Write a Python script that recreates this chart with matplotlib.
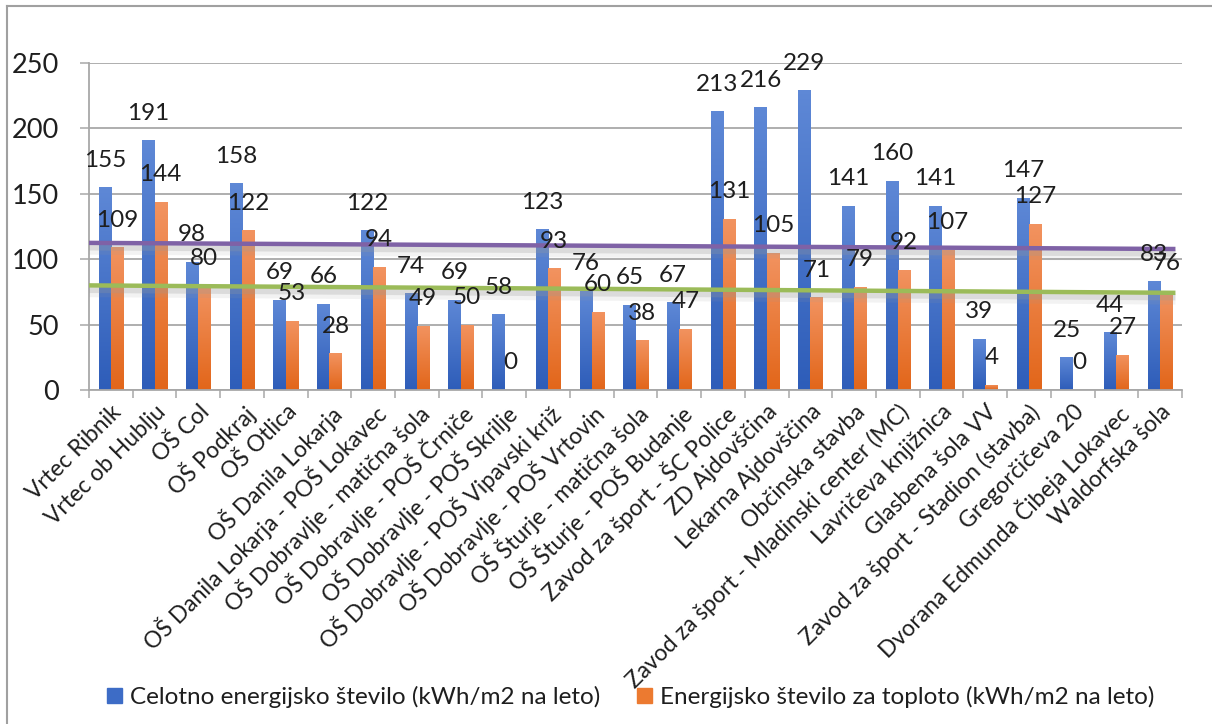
import numpy as np
import matplotlib
matplotlib.use("Agg")
import matplotlib.pyplot as plt
from matplotlib.colors import LinearSegmentedColormap
from matplotlib.patches import Rectangle
from matplotlib.lines import Line2D
import matplotlib.patheffects as pe

plt.rcParams['font.family'] = ['Lato', 'DejaVu Sans']

categories = [
    "Vrtec Ribnik", "Vrtec ob Hublju", "OŠ Col", "OŠ Podkraj", "OŠ Otlica",
    "OŠ Danila Lokarja", "OŠ Danila Lokarja - POŠ Lokavec",
    "OŠ Dobravlje - matična šola", "OŠ Dobravlje - POŠ Črniče",
    "OŠ Dobravlje - POŠ Skrilje", "OŠ Dobravlje - POŠ Vipavski križ",
    "OŠ Dobravlje - POŠ Vrtovin", "OŠ Šturje - matična šola",
    "OŠ Šturje - POŠ Budanje", "Zavod za šport - ŠC Police", "ZD Ajdovščina",
    "Lekarna Ajdovščina", "Občinska stavba",
    "Zavod za šport - Mladinski center (MC)", "Lavričeva knjižnica",
    "Glasbena šola VV", "Zavod za šport - Stadion (stavba)", "Gregorčičeva 20",
    "Dvorana Edmunda Čibeja Lokavec", "Waldorfska šola",
]
total = [155, 191, 98, 158, 69, 66, 122, 74, 69, 58, 123, 76, 65, 67, 213,
         216, 229, 141, 160, 141, 39, 147, 25, 44, 83]
heat = [109, 144, 80, 122, 53, 28, 94, 49, 50, 0, 93, 60, 38, 47, 131,
        105, 71, 79, 92, 107, 4, 127, 0, 27, 76]
trend_total = [112.5, 107.8]
trend_heat = [80.0, 74.3]
series_names = ["Celotno energijsko število (kWh/m2 na leto)",
                "Energijsko število za toploto (kWh/m2 na leto)"]
yticks = [0, 50, 100, 150, 200, 250]

W, H = 1212, 724
fig = plt.figure(figsize=(W / 100, H / 100), dpi=100)
ax = fig.add_axes([89 / W, 1 - 390 / H, (1182 - 89) / W, (390 - 63) / H])

blue_cmap = LinearSegmentedColormap.from_list("b", ["#2E5DB9", "#5E88D6"])
orange_cmap = LinearSegmentedColormap.from_list("o", ["#E2661A", "#F29360"])
grad = np.linspace(0, 1, 64).reshape(-1, 1)

bw = 0.28
x = np.arange(len(categories))
text_color = "#1e1e1e"


def gradient_bars(xs, vals, cmap):
    bars = ax.bar(xs, vals, width=bw, color="none", edgecolor="none", zorder=2)
    for b in bars:
        x0, y0 = b.get_x(), b.get_y()
        w, h = b.get_width(), b.get_height()
        if h <= 0:
            continue
        im = ax.imshow(grad, cmap=cmap, origin="lower", aspect="auto",
                       extent=(x0, x0 + w, y0, y0 + h), zorder=2,
                       interpolation="bilinear")
        im.set_clip_path(b)
    return bars


gradient_bars(x - bw / 2, total, blue_cmap)
gradient_bars(x + bw / 2, heat, orange_cmap)

for xi, v in zip(x - bw / 2, total):
    ax.annotate(str(v), (xi, v), xytext=(0, 19.5), textcoords="offset points",
                ha="center", va="center", fontsize=17.5, color=text_color,
                zorder=5, annotation_clip=False)
for xi, v in zip(x + bw / 2, heat):
    ax.annotate(str(v), (xi, v), xytext=(0, 19.5), textcoords="offset points",
                ha="center", va="center", fontsize=17.5, color=text_color,
                zorder=5, annotation_clip=False)

# trend lines with soft shadow
tx = [-0.62, 24.35]
for vals, col in [(trend_total, "#7F62A6"), (trend_heat, "#9BBB59")]:
    ax.plot(tx, vals, color=col, lw=3.2, solid_capstyle="butt", zorder=4,
            path_effects=[pe.SimpleLineShadow(offset=(0, -3), shadow_color="#9a9a9a",
                                              alpha=0.25, linewidth=5),
                          pe.SimpleLineShadow(offset=(0, -5), shadow_color="#9a9a9a",
                                              alpha=0.12, linewidth=7),
                          pe.Normal()])

ax.set_xlim(-0.5, len(categories) - 0.5)
ax.set_ylim(0, 250)
ax.set_yticks(yticks)
ax.set_yticklabels([str(t) for t in yticks], fontsize=19.5, color=text_color)
ax.yaxis.grid(True, color="#A8A8A8", lw=1.3, zorder=0)
ax.set_axisbelow(True)
ax.tick_params(axis="y", length=6.5, width=1.1, color="#A8A8A8", pad=15)
ax.set_xticks(np.arange(-0.5, len(categories), 1.0), minor=False)
ax.set_xticklabels([])
ax.set_xticks(x, minor=True)
ax.set_xticklabels(categories, minor=True, rotation=45, ha="right",
                   rotation_mode="anchor", fontsize=16.5, color=text_color)
ax.tick_params(axis="x", which="major", length=6, width=1.1, color="#A8A8A8")
ax.tick_params(axis="x", which="minor", length=0, pad=8)
for s in ["top", "right"]:
    ax.spines[s].set_visible(False)
for s in ["left", "bottom"]:
    ax.spines[s].set_color("#A8A8A8")
    ax.spines[s].set_linewidth(1.3)

# legend
handles = [Rectangle((0, 0), 1, 1, color="#3D6CC6"),
           Rectangle((0, 0), 1, 1, color="#EC7A30")]
fig.legend(handles, series_names, loc="center", bbox_to_anchor=(0.5206, 1 - 697 / H),
           ncol=2, frameon=False, fontsize=17.5, handlelength=0.6,
           handleheight=0.6, handletextpad=0.35, columnspacing=1.5,
           labelcolor=text_color)

# outer border (left and top)
fig.add_artist(Line2D([7 / W, 7 / W], [0, 1 - 6 / H], color="#A0A0A0", lw=1.5))
fig.add_artist(Line2D([7 / W, 1], [1 - 6 / H, 1 - 6 / H], color="#A0A0A0", lw=1.5))

fig.savefig("out.png", dpi=100)
